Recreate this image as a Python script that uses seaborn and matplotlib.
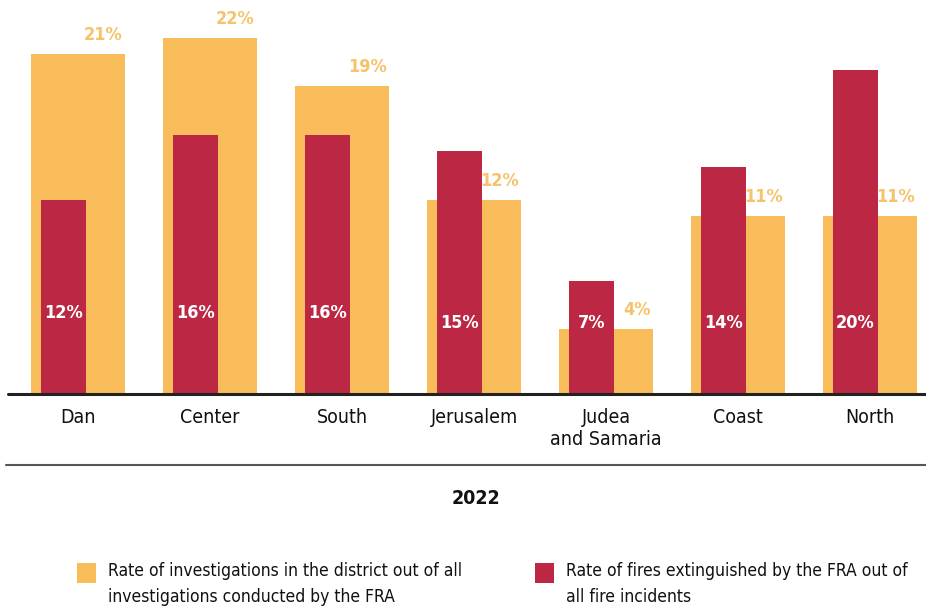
import numpy as np
import pandas as pd
import seaborn as sns
import matplotlib.pyplot as plt
from matplotlib import font_manager
from matplotlib.patches import Rectangle
from matplotlib.lines import Line2D

districts = ['Dan', 'Center', 'South', 'Jerusalem', 'Judea\nand Samaria', 'Coast', 'North']
investigations = [21, 22, 19, 12, 4, 11, 11]
fires = [12, 16, 16, 15, 7, 14, 20]
year = '2022'
legend_labels = ['Rate of investigations in the district out of all\ninvestigations conducted by the FRA',
                 'Rate of fires extinguished by the FRA out of\nall fire incidents']

YELLOW = '#F8BD5A'
YELLOW_TXT = '#F6C26A'
RED = '#BC2743'

sns.set_style('white')

# look for a narrow font, the original uses a condensed face
fam, stretch = 'DejaVu Sans', 'normal'
for f in font_manager.fontManager.ttflist:
    if 'Narrow' in f.name or 'Condensed' in f.name or f.stretch in ('condensed', 'semi-condensed', 'extra-condensed', 'ultra-condensed'):
        fam, stretch = f.name, f.stretch
        break
plt.rcParams['font.family'] = [fam, 'DejaVu Sans']
plt.rcParams['font.stretch'] = stretch

pos = np.arange(len(districts))
df = pd.DataFrame({'pos': pos, 'district': districts, 'inv': investigations, 'fire': fires})
df['pos_red'] = df['pos'] - 0.11

fig = plt.figure(figsize=(9.26, 6.10), dpi=100)
ax = fig.add_axes([0, 1 - 394/610, 1, 394/610])
sns.barplot(data=df, x='pos', y='inv', color=YELLOW, width=0.71, native_scale=True,
            saturation=1, errorbar=None, linewidth=0, ax=ax)
sns.barplot(data=df, x='pos_red', y='fire', color=RED, width=0.34, native_scale=True,
            saturation=1, errorbar=None, linewidth=0, ax=ax)

ax.set_xlim(-78/132, (926-78)/132)
ax.set_ylim(0, 394/16.2)
ax.set_xticks(pos, districts, fontsize=14, color='#111111')
ax.tick_params(axis='x', length=0, pad=10)
ax.set_yticks([])
ax.set_xlabel('')
ax.set_ylabel('')
sns.despine(ax=ax, left=True, bottom=True)
ax.axhline(0, xmin=8/926, xmax=1, color='#222222', lw=2.2, clip_on=False)

for p, v, f in zip(pos, investigations, fires):
    ax.text(p + 0.34, v + 0.6, f'{v}%', ha='right', va='bottom', color=YELLOW_TXT,
            fontsize=13, fontweight='bold')
    ly = 5.0 if v >= f else 4.4
    ax.text(p - 0.11, ly, f'{f}%', ha='center', va='center', color='white',
            fontsize=13, fontweight='bold')

fig.add_artist(Line2D([6/926, 1], [1 - 465/610] * 2, color='#555555', lw=1.5))
fig.text(476/926, 1 - 498/610, year, ha='center', va='center', fontsize=14,
         fontweight='heavy', color='#111111')

for x0, col, lab in zip([77, 535], [YELLOW, RED], legend_labels):
    fig.add_artist(Rectangle((x0/926, 1 - 583/610), 19/926, 20/610, color=col, lw=0,
                             transform=fig.transFigure))
    fig.text((x0 + 31)/926, 1 - 562/610, lab, ha='left', va='top', fontsize=12.5,
             linespacing=1.6, color='#111111')

fig.savefig('out.png', dpi=100)
